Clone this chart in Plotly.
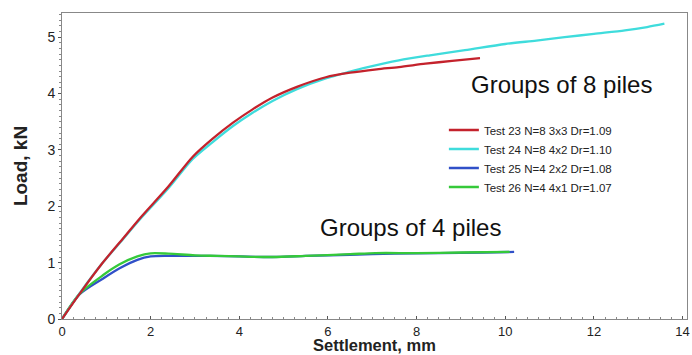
import plotly.graph_objects as go

# Settlement (mm) / Load (kN)
t23_x = [0, 0.4, 0.9, 1.4, 1.75, 2.4, 2.95, 3.4, 3.85, 4.3, 4.75, 5.3, 5.95, 6.5, 7.1, 7.6, 8.2, 8.8, 9.43]
t23_y = [0, 0.45, 0.98, 1.45, 1.78, 2.35, 2.88, 3.2, 3.48, 3.72, 3.93, 4.12, 4.29, 4.37, 4.43, 4.47, 4.53, 4.58, 4.63]

t24_x = [0, 0.4, 0.9, 1.38, 1.75, 2.4, 2.95, 3.4, 3.85, 4.3, 4.75, 5.3, 5.95, 6.5, 6.85, 7.6, 8.3, 9.09, 10, 10.7, 11.34, 12, 12.7, 13.2, 13.59]
t24_y = [0, 0.46, 0.98, 1.42, 1.76, 2.32, 2.84, 3.14, 3.42, 3.66, 3.87, 4.08, 4.27, 4.39, 4.46, 4.59, 4.68, 4.77, 4.88, 4.94, 5.0, 5.06, 5.12, 5.18, 5.24]

t25_x = [0, 0.4, 0.93, 1.3, 1.7, 2.0, 2.4, 3.0, 3.33, 4, 4.75, 5.5, 6.5, 7.5, 8.5, 9.5, 10.2]
t25_y = [0, 0.44, 0.72, 0.9, 1.05, 1.11, 1.12, 1.12, 1.12, 1.11, 1.10, 1.12, 1.14, 1.16, 1.17, 1.18, 1.19]

t26_x = [0, 0.4, 0.93, 1.3, 1.7, 2.0, 2.4, 3.0, 3.5, 4, 4.75, 5.5, 6.5, 7.07, 8, 9, 10.1]
t26_y = [0, 0.45, 0.78, 0.97, 1.11, 1.165, 1.16, 1.13, 1.12, 1.11, 1.10, 1.12, 1.15, 1.17, 1.17, 1.18, 1.19]

names = ["Test 23 N=8 3x3 Dr=1.09", "Test 24 N=8 4x2 Dr=1.10",
         "Test 25 N=4 2x2 Dr=1.08", "Test 26 N=4 4x1 Dr=1.07"]
colors = ["#c4222c", "#3fdcdc", "#3050c8", "#35c93a"]

x_ticks = [0, 2, 4, 6, 8, 10, 12, 14]
y_ticks = [0, 1, 2, 3, 4, 5]

FONT = "Liberation Sans, Arial, sans-serif"

fig = go.Figure()
series = [(t25_x, t25_y, 2), (t26_x, t26_y, 3), (t24_x, t24_y, 1), (t23_x, t23_y, 0)]
for xs, ys, i in series:
    fig.add_trace(go.Scatter(x=xs, y=ys, mode="lines", name=names[i],
                             line=dict(color=colors[i], width=2.3, shape="spline", smoothing=0.8),
                             legendrank=i))

fig.add_annotation(x=11.26, y=4.17, text="Groups of 8 piles", showarrow=False,
                   font=dict(family=FONT, size=24, color="#111111"))
fig.add_annotation(x=7.86, y=1.63, text="Groups of 4 piles", showarrow=False,
                   font=dict(family=FONT, size=24, color="#111111"))
# x-axis title as a paper-anchored annotation so it can sit just below the tick labels
fig.add_annotation(xref="paper", yref="paper", x=0.5, y=-0.085, yanchor="middle",
                   text="<b>Settlement, mm</b>", showarrow=False, borderpad=0,
                   font=dict(family=FONT, size=16.5, color="#222222"))

fig.update_layout(
    width=692, height=355,
    margin=dict(l=62, r=5, t=13, b=36),
    paper_bgcolor="white", plot_bgcolor="white",
    font=dict(family=FONT, color="#222222"),
    showlegend=True,
    legend=dict(x=0.611, y=0.665, xanchor="left", yanchor="top",
                bgcolor="rgba(0,0,0,0)", font=dict(size=11.5, family=FONT),
                tracegroupgap=0, itemwidth=30),
)
fig.update_xaxes(range=[0, 14.1], tickvals=x_ticks, ticks="inside", ticklen=3,
                 tickcolor="#555", showgrid=False, zeroline=False, automargin=False,
                 showline=True, linecolor="#888", linewidth=1, mirror=True,
                 tickfont=dict(size=13, family=FONT), ticklabelstandoff=0,
                 minor=dict(dtick=0.25, ticks="inside", ticklen=2, tickcolor="#888"))
fig.update_yaxes(range=[0, 5.43], tickvals=y_ticks, ticks="outside", ticklen=3,
                 tickcolor="#555", showgrid=False, zeroline=False, automargin=False,
                 showline=True, linecolor="#888", linewidth=1, mirror=True,
                 tickfont=dict(size=14, family=FONT),
                 minor=dict(dtick=0.1, ticks="outside", ticklen=2, tickcolor="#888"),
                 title=dict(text="<b>Load, kN</b>", font=dict(size=19, family=FONT), standoff=14))

fig.write_html("out.html", config={"displayModeBar": False},
               post_script="document.body.style.margin='0';document.body.style.overflow='hidden';")
